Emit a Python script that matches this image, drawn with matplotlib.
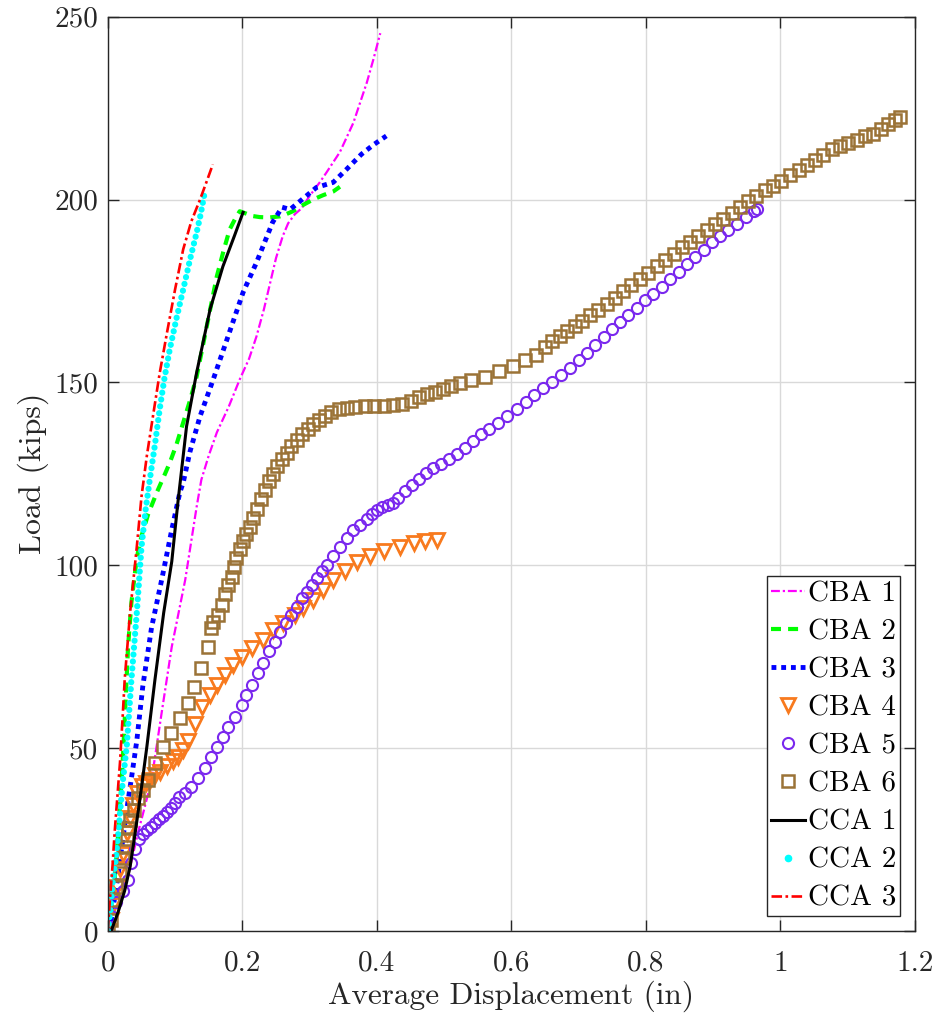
import numpy as np
import matplotlib
matplotlib.use('Agg')
import matplotlib.pyplot as plt
from matplotlib.lines import Line2D

plt.rcParams['font.family'] = ['cmr10', 'Liberation Serif', 'DejaVu Serif']
plt.rcParams['axes.formatter.use_mathtext'] = True

# digitised (displacement in, load kips)
cba1 = np.array([(0, 0), (0.015, 5), (0.030, 15), (0.045, 27), (0.055, 34), (0.065, 41.3), (0.080, 59.7),
                 (0.095, 77.7), (0.115, 96), (0.132, 116), (0.139, 123.4), (0.150, 130), (0.162, 136.3),
                 (0.180, 143.5), (0.196, 150.8), (0.210, 156.5), (0.221, 162.6), (0.232, 170), (0.241, 177),
                 (0.250, 184), (0.260, 190), (0.268, 193.5), (0.278, 196), (0.288, 197.6), (0.300, 201),
                 (0.315, 204.7), (0.325, 207.4), (0.345, 213), (0.365, 221), (0.385, 232), (0.395, 238.5),
                 (0.405, 245.5)])
cba2 = np.array([(0, 0), (0.005, 6), (0.010, 14), (0.016, 28), (0.022, 46), (0.026, 61.3), (0.030, 77.7),
                 (0.035, 89.8), (0.043, 102), (0.050, 108), (0.060, 114), (0.073, 120), (0.085, 125),
                 (0.092, 128), (0.102, 133), (0.112, 139), (0.122, 145), (0.132, 151.6), (0.147, 165.3),
                 (0.162, 179), (0.172, 186), (0.181, 191.8), (0.190, 195), (0.196, 196.8), (0.205, 196.2),
                 (0.215, 195.5), (0.226, 195.2), (0.240, 195.1), (0.256, 195.4), (0.265, 196), (0.275, 196.8),
                 (0.290, 198.5), (0.305, 200), (0.320, 201.2), (0.335, 202.2), (0.345, 203.5)])
cba3 = np.array([(0, 0), (0.005, 3), (0.015, 15), (0.028, 33), (0.036, 43), (0.043, 52), (0.052, 67),
                 (0.065, 83), (0.080, 96), (0.095, 109.7), (0.107, 119.9), (0.112, 122.6), (0.122, 131),
                 (0.137, 140.7), (0.157, 151), (0.177, 161.7), (0.201, 174.6), (0.221, 182.8), (0.245, 193.8),
                 (0.259, 197.9), (0.271, 197.3), (0.286, 199.6), (0.310, 203.3), (0.335, 204.7), (0.355, 208.3),
                 (0.377, 212.4), (0.395, 215), (0.414, 217.4)])
cba4 = np.array([(0, 0), (0.004, 3), (0.008, 7), (0.013, 12), (0.018, 17), (0.022, 21), (0.028, 26.8),
                 (0.033, 31), (0.038, 34.5), (0.043, 37.8), (0.050, 39.5), (0.056, 40.5), (0.062, 41.3),
                 (0.070, 42.5), (0.078, 43.5), (0.088, 45), (0.097, 46.5), (0.105, 47.5), (0.112, 49.5),
                 (0.119, 52), (0.129, 56.5), (0.140, 61.3), (0.152, 64.6), (0.162, 67.3), (0.174, 70),
                 (0.186, 72.8), (0.199, 75), (0.214, 77.4), (0.231, 79.6), (0.245, 82.4), (0.260, 84.3),
                 (0.278, 86.5), (0.290, 88.4), (0.305, 90.6), (0.320, 93.3), (0.335, 96), (0.352, 98.5),
                 (0.370, 100.8), (0.390, 102.4), (0.410, 103.8), (0.434, 105), (0.455, 106), (0.472, 106.6),
                 (0.489, 107)])
cba5 = np.array([(0, 0.5), (0.004, 4), (0.012, 8), (0.022, 11), (0.030, 14), (0.035, 18.6), (0.040, 22.5),
                 (0.046, 25), (0.052, 26.5), (0.058, 27.5), (0.064, 28.5), (0.070, 29.5), (0.076, 30.5),
                 (0.082, 31.5), (0.088, 32.5), (0.094, 33.5), (0.100, 35), (0.106, 36.5), (0.114, 37.8),
                 (0.124, 39.4), (0.134, 41.9), (0.144, 44.6), (0.154, 47.6), (0.162, 50.4), (0.171, 53.1),
                 (0.179, 55.8), (0.189, 58.6), (0.199, 61.8), (0.206, 64.6), (0.214, 67.3), (0.223, 70.6),
                 (0.231, 73.3), (0.240, 76.4), (0.248, 79.1), (0.256, 81.8), (0.265, 84.3), (0.273, 86.5),
                 (0.281, 88.7), (0.289, 91.1), (0.296, 92.8), (0.303, 94.7), (0.311, 96.6), (0.318, 98.3),
                 (0.326, 100), (0.335, 102.5), (0.345, 105), (0.355, 107.5), (0.365, 109.5), (0.375, 111),
                 (0.385, 112.5), (0.393, 114), (0.400, 115), (0.408, 115.8), (0.416, 116.5), (0.424, 117),
                 (0.432, 118.3), (0.442, 120.2), (0.452, 122), (0.462, 123.5), (0.473, 125.2), (0.484, 126.5),
                 (0.496, 127.8), (0.507, 129), (0.519, 130.4), (0.531, 132), (0.543, 134), (0.555, 135.8),
                 (0.567, 137.3), (0.580, 139), (0.594, 140.8), (0.608, 142.8), (0.621, 144.6), (0.634, 146.5),
                 (0.647, 148.4), (0.660, 150.2), (0.673, 152), (0.687, 154), (0.700, 156), (0.712, 158),
                 (0.724, 160.2), (0.737, 162.5), (0.749, 164.5), (0.761, 166.5), (0.774, 168.5), (0.786, 170.4),
                 (0.799, 172.4), (0.811, 174.3), (0.824, 176.2), (0.836, 178.2), (0.849, 180.2), (0.861, 182.3),
                 (0.873, 184.2), (0.886, 186.2), (0.898, 188.3), (0.910, 190), (0.922, 191.6), (0.935, 193.3),
                 (0.948, 195.3), (0.960, 197), (0.965, 197.3)])
cba6 = np.array([(0, 0), (0.004, 3), (0.007, 8.5), (0.012, 12), (0.018, 15.9), (0.022, 20), (0.025, 23),
                 (0.028, 25), (0.030, 28), (0.033, 30.4), (0.039, 33), (0.045, 36.2), (0.052, 38.5),
                 (0.060, 41.3), (0.070, 46), (0.082, 50.4), (0.094, 54.2), (0.107, 58.3), (0.119, 62.4),
                 (0.128, 66.8), (0.138, 72), (0.149, 77.7), (0.153, 82.9), (0.157, 84.5), (0.164, 86.5),
                 (0.169, 89.2), (0.174, 92), (0.179, 94.7), (0.184, 96.9), (0.187, 99.6), (0.191, 102),
                 (0.196, 104.3), (0.201, 106.5), (0.206, 108.5), (0.211, 110.5), (0.216, 113), (0.222, 115.5),
                 (0.228, 118), (0.234, 120.5), (0.240, 123), (0.246, 125), (0.252, 127), (0.259, 129),
                 (0.266, 130.8), (0.273, 132.5), (0.281, 134.2), (0.289, 135.8), (0.297, 137.2), (0.305, 138.6),
                 (0.314, 139.8), (0.323, 140.8), (0.332, 141.8), (0.343, 142.6), (0.355, 143.1), (0.368, 143.4),
                 (0.382, 143.5), (0.396, 143.5), (0.410, 143.6), (0.424, 143.7), (0.437, 144.2), (0.450, 145),
                 (0.462, 146), (0.474, 146.8), (0.486, 147.5), (0.498, 148.2), (0.510, 148.9), (0.523, 149.8),
                 (0.540, 150.7), (0.561, 151.6), (0.582, 153.1), (0.603, 154.6), (0.620, 156), (0.637, 157.6),
                 (0.650, 159.8), (0.661, 161.2), (0.672, 162.6), (0.683, 164), (0.694, 165.3), (0.705, 166.8),
                 (0.717, 168.3), (0.729, 169.9), (0.742, 171.5), (0.754, 173.2), (0.766, 175), (0.778, 176.6),
                 (0.791, 178.3), (0.803, 180), (0.816, 181.7), (0.829, 183.5), (0.841, 185.2), (0.853, 186.9),
                 (0.866, 188.5), (0.878, 190), (0.891, 191.6), (0.903, 193.2), (0.915, 194.8), (0.928, 196.4),
                 (0.940, 198), (0.952, 199.5), (0.964, 201), (0.977, 202.5), (0.989, 203.8), (1.001, 205.2),
                 (1.014, 206.7), (1.027, 208), (1.039, 209.4), (1.051, 210.9), (1.063, 212.3), (1.076, 213.7),
                 (1.088, 214.6), (1.100, 215.5), (1.113, 216.4), (1.126, 217.3), (1.138, 218), (1.150, 219.4),
                 (1.160, 220.8), (1.170, 221.8), (1.178, 222.5)])
cca1 = np.array([(0.005, 0), (0.015, 5), (0.025, 11), (0.033, 17.5), (0.040, 26), (0.048, 36.5),
                 (0.058, 50.4), (0.070, 68.7), (0.083, 87), (0.095, 101), (0.104, 117), (0.117, 138),
                 (0.132, 152.7), (0.152, 170), (0.171, 181.7), (0.188, 190), (0.201, 196.5)])
cca2 = np.array([(0, 0), (0.004, 6), (0.007, 13), (0.012, 20), (0.017, 30), (0.022, 40.5), (0.028, 50.4),
                 (0.035, 68.7), (0.043, 87), (0.050, 105), (0.056, 115), (0.062, 123), (0.070, 133),
                 (0.077, 142.6), (0.084, 151), (0.092, 159), (0.102, 167.5), (0.112, 175.4), (0.122, 183.5),
                 (0.132, 191), (0.138, 196), (0.144, 202)])
cca3 = np.array([(0, 0), (0.003, 8.5), (0.007, 18), (0.010, 26.8), (0.018, 46), (0.022, 58.6), (0.025, 68.7),
                 (0.033, 87), (0.043, 105), (0.050, 118.8), (0.058, 130), (0.067, 140.7), (0.077, 152.5),
                 (0.088, 163.7), (0.100, 175.5), (0.112, 186.4), (0.124, 194), (0.137, 200), (0.147, 205),
                 (0.156, 209.6)])

labels = ['CBA 1', 'CBA 2', 'CBA 3', 'CBA 4', 'CBA 5', 'CBA 6', 'CCA 1', 'CCA 2', 'CCA 3']
orange = '#F87A1E'
purple = '#7A28EE'
brown = '#9B7337'

fig = plt.figure(figsize=(9.38, 10.14), dpi=100)
ax = fig.add_axes([0.115, 0.082, 0.8605, 0.9015])

h = []
h += ax.plot(cba1[:, 0], cba1[:, 1], color='#FF00FF', lw=1.6, ls=(0, (4, 1.3, 1, 1.3)))
h += ax.plot(cba2[:, 0], cba2[:, 1], color='#00FF00', lw=3, ls=(0, (2.4, 1.7)))
h += ax.plot(cba3[:, 0], cba3[:, 1], color='#0000FF', lw=3.5, ls=(0, (1, 1)))
h += ax.plot(cba4[:, 0], cba4[:, 1], ls='none', marker='v', ms=9.5, mfc='none', mec=orange, mew=2)
h += ax.plot(cba5[:, 0], cba5[:, 1], ls='none', marker='o', ms=8, mfc='none', mec=purple, mew=1.5)
h += ax.plot(cba6[:, 0], cba6[:, 1], ls='none', marker='s', ms=8, mfc='none', mec=brown, mew=1.8)
h += ax.plot(cca1[:, 0], cca1[:, 1], color='black', lw=2.2)
ax.plot(cca2[:, 0], cca2[:, 1], color='#00FFFF', lw=4.5, ls=(0, (0.01, 1.1)),
        dash_capstyle='round')
h.append(Line2D([], [], ls='none', marker='.', ms=9, color='#00FFFF'))
h += ax.plot(cca3[:, 0], cca3[:, 1], color='#FF0000', lw=1.9, ls=(0, (4, 1.3, 1, 1.3)))

ax.set_xlim(0, 1.2)
ax.set_ylim(0, 250)
ax.set_xticks([0, 0.2, 0.4, 0.6, 0.8, 1.0, 1.2])
ax.set_xticklabels(['0', '0.2', '0.4', '0.6', '0.8', '1', '1.2'])
ax.set_yticks([0, 50, 100, 150, 200, 250])
ax.set_yticklabels(['0', '50', '100', '150', '200', '250'])
ax.grid(True, color='#D9D9D9', lw=1)
ax.set_axisbelow(True)
ax.tick_params(direction='in', length=8, width=1, colors='#262626', labelsize=21,
               top=True, right=True, pad=7)
ax.tick_params(axis='x', pad=14)
for s in ax.spines.values():
    s.set_color('#262626')
    s.set_linewidth(1)
ax.set_xlabel('Average Displacement (in)', fontsize=22.5, color='#262626', labelpad=3)
ax.set_ylabel('Load (kips)', fontsize=23, color='#262626', labelpad=4)

leg = ax.legend(h, labels, loc='lower right', fontsize=21, frameon=True, fancybox=False,
                edgecolor='#262626', framealpha=1, handlelength=1.15, handletextpad=0.1,
                labelspacing=0.4, borderpad=0.15, borderaxespad=0.5)
leg.get_frame().set_linewidth(1)

plt.savefig('out.png', dpi=100)
